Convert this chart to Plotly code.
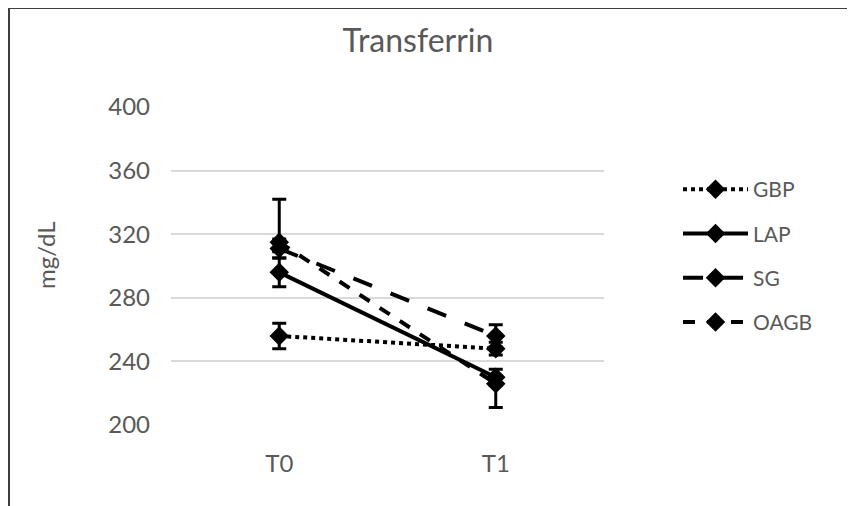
import plotly.graph_objects as go

categories = ["T0", "T1"]
series_names = ["GBP", "LAP", "SG", "OAGB"]
gbp = [256, 248]
lap = [296, 230]
sg = [311, 256]
oagb = [315, 226]
gbp_err = [8, 4]
lap_err = [9, 5]
sg_err = [6, 7]
oagb_err_plus = [27, 5]
oagb_err_minus = [6, 15]
y_ticks = [200, 240, 280, 320, 360, 400]

values = [gbp, lap, sg, oagb]
dashes = ["dot", "solid", "longdash", "dash"]

W, H = 855, 506
OFF = 8  # page body margin offset
L, T = 171 - OFF, 107 - OFF
R = W - (604 - OFF)
B = H - (425 - OFF)
pw, ph = W - L - R, H - T - B

def px_to_paper_x(px):
    return (px - OFF - L) / pw

def px_to_paper_y(py):
    return (H - B - (py - OFF)) / ph

fig = go.Figure()
for i, (name, vals, dash) in enumerate(zip(series_names, values, dashes)):
    if name == "OAGB":
        err = dict(type="data", array=oagb_err_plus, arrayminus=oagb_err_minus, symmetric=False,
                   color="black", thickness=3, width=7)
    else:
        e = [gbp_err, lap_err, sg_err][i]
        err = dict(type="data", array=e, color="black", thickness=3, width=7)
    fig.add_trace(go.Scatter(
        x=categories, y=vals, name=name, mode="lines+markers",
        line=dict(color="black", width=4, dash=dash),
        marker=dict(symbol="diamond", size=15, color="black"),
        error_y=err, legendgroup=name,
    ))

fig.update_layout(
    width=W, height=H,
    margin=dict(l=L, r=R, t=T, b=B, pad=0, autoexpand=False),
    paper_bgcolor="white", plot_bgcolor="white",
    font=dict(family="Lato, Open Sans, sans-serif", color="#595959"),
    title=dict(text="Transferrin", x=(418 - OFF) / W, xanchor="center", y=1 - (41 - OFF) / H,
               yanchor="middle", font=dict(size=32, color="#595959")),
    xaxis=dict(type="category", range=[-0.5, 1.5], showgrid=False, zeroline=False, showline=False,
               tickfont=dict(size=24, color="#595959"), ticks="", ticklabelstandoff=22,
               automargin=False),
    yaxis=dict(range=[200, 400], tickvals=y_ticks, showgrid=True, gridcolor="#d9d9d9", gridwidth=2,
               zeroline=False, showline=False, tickfont=dict(size=24, color="#595959"),
               ticks="", ticklabelstandoff=20, automargin=False),
    legend=dict(x=px_to_paper_x(678), y=px_to_paper_y(169), xanchor="left", yanchor="top",
                font=dict(size=21, color="#595959"), itemwidth=65, tracegroupgap=14,
                traceorder="grouped", bgcolor="rgba(0,0,0,0)"),
    showlegend=True,
)

fig.add_annotation(text="mg/dL", xref="paper", yref="paper", x=px_to_paper_x(45), y=px_to_paper_y(255),
                   xanchor="center", yanchor="middle", textangle=-90, showarrow=False,
                   font=dict(size=24, color="#595959"))

fig.add_shape(type="line", xref="paper", yref="paper",
              x0=px_to_paper_x(9), x1=px_to_paper_x(9), y0=px_to_paper_y(8), y1=px_to_paper_y(520),
              line=dict(color="#404040", width=2))
fig.add_shape(type="line", xref="paper", yref="paper",
              x0=px_to_paper_x(9), x1=px_to_paper_x(870), y0=px_to_paper_y(8), y1=px_to_paper_y(8),
              line=dict(color="#404040", width=2))

fig.write_html("out.html")
